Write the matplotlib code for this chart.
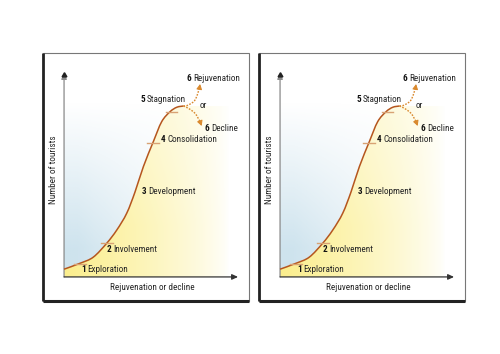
import numpy as np
import matplotlib
matplotlib.use("Agg")
import matplotlib.pyplot as plt
import matplotlib.transforms as mtransforms
from matplotlib.patches import Rectangle, FancyArrowPatch, PathPatch
from matplotlib.path import Path

plt.rcParams['font.family'] = ['Roboto Condensed', 'DejaVu Sans']

# ---- data (arbitrary 0-100 units) ----
curve_x = [0, 9.2, 16.8, 24.5, 30.3, 36.0, 40.8, 45.6, 51.3, 56.1, 60.9, 64.8, 68.6]
curve_y = [3.8, 6.7, 9.7, 16.5, 23.0, 31.2, 41.7, 54.1, 66.3, 76.1, 81.0, 83.2, 83.8]
rejuv_x = [68.6, 71.4, 75.3, 77.8, 78.2]
rejuv_y = [83.8, 84.3, 86.8, 92.5, 94.6]
decline_x = [68.6, 71.4, 75.3, 78.2, 79.1]
decline_y = [83.8, 82.7, 80.2, 76.1, 74.0]

stage_tick_x = [9.2, 24.7, 51.1, 62.0]
stage_tick_y = [6.4, 16.7, 65.7, 80.9]

stage_nums = ["1", "2", "3", "4", "5", "6", "6"]
stage_names = ["Exploration", "Involvement", "Development", "Consolidation",
               "Stagnation", "Rejuvenation", "Decline"]
label_x = [9.8, 24.5, 44.7, 55.6, 43.7, 70.5, 81.0]
label_y = [3.4, 13.6, 41.8, 67.2, 86.8, 97.4, 72.9]

x_label = "Rejuvenation or decline"
y_label = "Number of tourists"
or_text = "or"

W, H = 500, 354
fig = plt.figure(figsize=(W / 100, H / 100), dpi=100)

XL = (-12.1, 106.3)
YL = (-11.8, 109.8)

CURVE_C = "#b5561e"
TICK_C = "#d8a274"
TEXT_C = "#262626"
FS = 6.6


def smooth_path(xs, ys, tail=None):
    """Catmull-Rom through the read points, handed to matplotlib as cubic Bezier segments."""
    P = np.column_stack([xs, ys]).astype(float)
    verts = [P[0]]
    codes = [Path.MOVETO]
    n = len(P)
    for i in range(n - 1):
        p0 = P[i - 1] if i > 0 else P[i]
        p1 = P[i]
        p2 = P[i + 1]
        p3 = P[i + 2] if i + 2 < n else P[i + 1]
        c1 = p1 + (p2 - p0) / 6.0
        c2 = p2 - (p3 - p1) / 6.0
        verts += [c1, c2, p2]
        codes += [Path.CURVE4] * 3
    if tail is not None:
        for v in tail:
            verts.append(np.array(v, float))
            codes.append(Path.LINETO)
        verts.append(P[0])
        codes.append(Path.CLOSEPOLY)
    return Path(np.array(verts), codes)


def draw_panel(left_px):
    ax = fig.add_axes([left_px / W, 53 / H, 206 / W, 248 / H])
    ax.set_xlim(*XL)
    ax.set_ylim(*YL)
    ax.axis("off")

    gx = np.linspace(0, 1, 200)
    gy = np.linspace(0, 1, 200)
    GX, GY = np.meshgrid(gx, gy)

    # blue-ish background gradient above/left of the curve
    above = smooth_path(curve_x, curve_y, tail=[(100, curve_y[-1]), (100, 100), (0, 100)])
    apatch = PathPatch(above, facecolor="none", edgecolor="none")
    ax.add_patch(apatch)
    a = np.clip(1.2 - GY * 1.4, 0, 1) * np.clip(1.1 - GX * 1.3, 0, 1)
    img = np.zeros((200, 200, 4))
    img[..., 0] = 0.80
    img[..., 1] = 0.89
    img[..., 2] = 0.93
    img[..., 3] = a * 0.95
    im1 = ax.imshow(img, extent=[0, 100, 0, 100], origin="lower", aspect="auto", zorder=1)
    im1.set_clip_path(apatch)

    # yellow gradient under the curve
    under = smooth_path(curve_x, curve_y, tail=[(100, curve_y[-1]), (100, 0), (0, 0)])
    poly = PathPatch(under, facecolor="none", edgecolor="none")
    ax.add_patch(poly)
    ya = np.clip(1.0 - GX * 1.05, 0, 1) ** 0.75 * np.clip(1.15 - GY * 0.6, 0, 1)
    yimg = np.zeros((200, 200, 4))
    yimg[..., 0] = 0.985
    yimg[..., 1] = 0.935
    yimg[..., 2] = 0.55
    yimg[..., 3] = np.clip(ya, 0, 1)
    im2 = ax.imshow(yimg, extent=[0, 100, 0, 100], origin="lower", aspect="auto", zorder=2)
    im2.set_clip_path(poly)

    # frame
    ax.add_patch(Rectangle((XL[0], YL[0]), XL[1] - XL[0], YL[1] - YL[0],
                           facecolor="none", edgecolor="#777777", lw=0.8, zorder=6,
                           clip_on=False))
    ax.plot([XL[0], XL[0]], [YL[0], YL[1]], color="#222222", lw=2.0, zorder=7,
            clip_on=False, solid_capstyle="butt")
    ax.plot([XL[0], XL[1]], [YL[0], YL[0]], color="#222222", lw=2.2, zorder=7,
            clip_on=False, solid_capstyle="butt")

    # axes arrows
    ax.add_patch(FancyArrowPatch((0, 0), (0, 100), arrowstyle="-|>,head_length=3.5,head_width=1.6",
                                 color="#8a8a8a", lw=0.9, zorder=4, shrinkA=0, shrinkB=0))
    ax.plot([0], [99], marker=(3, 0, 0), ms=4, color="#222222", zorder=5)
    ax.add_patch(FancyArrowPatch((0, 0), (100, 0), arrowstyle="-|>,head_length=3.5,head_width=1.6",
                                 color="#333333", lw=0.9, zorder=4, shrinkA=0, shrinkB=0))

    # main curve
    ax.add_patch(PathPatch(smooth_path(curve_x, curve_y), facecolor="none",
                           edgecolor=CURVE_C, lw=1.1, zorder=5))

    # branches (dotted with arrowheads)
    for bx, by in ((rejuv_x, rejuv_y), (decline_x, decline_y)):
        ax.add_patch(PathPatch(smooth_path(bx[:-1], by[:-1]), facecolor="none",
                               edgecolor="#d9892e", lw=1.0, ls=(0, (1.2, 1.0)), zorder=5))
        ax.add_patch(FancyArrowPatch((bx[-2], by[-2]), (bx[-1], by[-1]),
                                     arrowstyle="-|>,head_length=3,head_width=1.6",
                                     color="#d9892e", lw=0.8, zorder=5,
                                     shrinkA=0, shrinkB=0))

    # stage ticks
    for tx, ty in zip(stage_tick_x, stage_tick_y):
        ax.plot([tx - 3.2, tx + 3.2], [ty, ty], color=TICK_C, lw=1.0, zorder=6)

    # stage labels
    off = mtransforms.offset_copy(ax.transData, fig=fig, x=4.6, y=0, units="points")
    for n, name, lx, ly in zip(stage_nums, stage_names, label_x, label_y):
        ax.text(lx, ly, n, fontsize=FS, fontweight="bold", color="#111111",
                ha="left", va="center", zorder=8)
        ax.text(lx, ly, name, fontsize=FS, color=TEXT_C, ha="left", va="center",
                zorder=8, transform=off)

    ax.text(78.2, 84.3, or_text, fontsize=FS, color=TEXT_C, ha="left", va="center", zorder=8)
    ax.text(51, -5.0, x_label, fontsize=FS, color=TEXT_C, ha="center", va="center", zorder=8)
    ax.text(-6.1, 52.5, y_label, fontsize=FS, color=TEXT_C, ha="center", va="center",
            rotation=90, zorder=8)


draw_panel(43)
draw_panel(259)

fig.savefig("out.png", dpi=100, facecolor="white")
